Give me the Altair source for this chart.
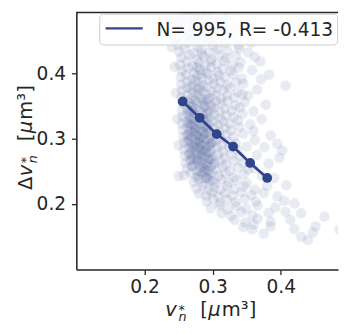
import altair as alt
import pandas as pd

# ---- data ----
line_x = [0.256, 0.281, 0.306, 0.330, 0.355, 0.380]
line_y = [0.357, 0.332, 0.307, 0.288, 0.263, 0.240]

legend_label = "N= 995, R= -0.413"
x_ticks = [0.2, 0.3, 0.4]
y_ticks = [0.2, 0.3, 0.4]

cloud_points = [
    (0.262, 0.497), (0.281, 0.492), (0.300, 0.499),
    (0.254, 0.486), (0.273, 0.482), (0.290, 0.488), (0.268, 0.489),
    (0.258, 0.475), (0.279, 0.478), (0.296, 0.472), (0.271, 0.471), (0.309, 0.479),
    (0.250, 0.466), (0.266, 0.462), (0.284, 0.468), (0.301, 0.463), (0.318, 0.467),
    (0.247, 0.453), (0.262, 0.458), (0.276, 0.451), (0.289, 0.456), (0.305, 0.452), (0.327, 0.459),
    (0.249, 0.444), (0.264, 0.447), (0.278, 0.441), (0.292, 0.448), (0.301, 0.442), (0.318, 0.446),
    (0.338, 0.443), (0.357, 0.447),
    (0.251, 0.433), (0.259, 0.438), (0.272, 0.431), (0.283, 0.436), (0.295, 0.432), (0.308, 0.437),
    (0.322, 0.434), (0.339, 0.438),
    (0.254, 0.424), (0.266, 0.428), (0.277, 0.421), (0.287, 0.426), (0.298, 0.422), (0.309, 0.428),
    (0.320, 0.423), (0.334, 0.427), (0.362, 0.425), (0.284, 0.429),
    (0.252, 0.413), (0.262, 0.418), (0.271, 0.411), (0.280, 0.416), (0.289, 0.412), (0.297, 0.418),
    (0.306, 0.414), (0.317, 0.419), (0.329, 0.412), (0.341, 0.417),
    (0.255, 0.404), (0.264, 0.408), (0.273, 0.401), (0.281, 0.406), (0.290, 0.403), (0.298, 0.409),
    (0.307, 0.402), (0.315, 0.407), (0.326, 0.404), (0.338, 0.409), (0.277, 0.409),
    (0.253, 0.394), (0.261, 0.398), (0.269, 0.391), (0.277, 0.396), (0.285, 0.393), (0.293, 0.399),
    (0.301, 0.392), (0.309, 0.397), (0.318, 0.394), (0.330, 0.398), (0.343, 0.392), (0.371, 0.391),
    (0.283, 0.399),
    (0.254, 0.383), (0.262, 0.388), (0.270, 0.381), (0.278, 0.386), (0.286, 0.382), (0.294, 0.389),
    (0.302, 0.384), (0.311, 0.387), (0.321, 0.382), (0.334, 0.386), (0.345, 0.384), (0.407, 0.381),
    (0.274, 0.389),
    (0.255, 0.374), (0.263, 0.378), (0.271, 0.371), (0.278, 0.376), (0.285, 0.373), (0.292, 0.379),
    (0.299, 0.372), (0.307, 0.377), (0.315, 0.374), (0.325, 0.378), (0.337, 0.371), (0.281, 0.379),
    (0.268, 0.376),
    (0.254, 0.363), (0.262, 0.367), (0.269, 0.361), (0.276, 0.366), (0.283, 0.362), (0.290, 0.368),
    (0.297, 0.363), (0.304, 0.367), (0.312, 0.361), (0.321, 0.366), (0.332, 0.363), (0.344, 0.368),
    (0.279, 0.369), (0.293, 0.361),
    (0.256, 0.354), (0.263, 0.358), (0.270, 0.351), (0.277, 0.356), (0.284, 0.353), (0.291, 0.359),
    (0.298, 0.352), (0.305, 0.357), (0.313, 0.354), (0.322, 0.358), (0.333, 0.351), (0.347, 0.356),
    (0.274, 0.359), (0.288, 0.351), (0.266, 0.355),
    (0.255, 0.343), (0.262, 0.347), (0.268, 0.341), (0.275, 0.346), (0.281, 0.342), (0.288, 0.348),
    (0.295, 0.343), (0.302, 0.347), (0.310, 0.341), (0.318, 0.346), (0.328, 0.343), (0.340, 0.348),
    (0.271, 0.349), (0.285, 0.341), (0.298, 0.349), (0.264, 0.344),
    (0.256, 0.334), (0.263, 0.338), (0.269, 0.331), (0.276, 0.336), (0.282, 0.332), (0.289, 0.338),
    (0.296, 0.333), (0.303, 0.337), (0.311, 0.331), (0.320, 0.336), (0.331, 0.333), (0.344, 0.338),
    (0.272, 0.339), (0.286, 0.331), (0.292, 0.339), (0.266, 0.333),
    (0.255, 0.323), (0.262, 0.327), (0.268, 0.321), (0.274, 0.326), (0.281, 0.322), (0.287, 0.328),
    (0.294, 0.323), (0.301, 0.327), (0.308, 0.321), (0.316, 0.326), (0.325, 0.323), (0.337, 0.328),
    (0.270, 0.329), (0.284, 0.321), (0.291, 0.329), (0.264, 0.324), (0.278, 0.325),
    (0.256, 0.314), (0.263, 0.318), (0.269, 0.311), (0.275, 0.316), (0.282, 0.312), (0.288, 0.318),
    (0.295, 0.313), (0.302, 0.317), (0.310, 0.311), (0.318, 0.316), (0.327, 0.313), (0.339, 0.318),
    (0.360, 0.312), (0.272, 0.319), (0.285, 0.311), (0.292, 0.319), (0.266, 0.313), (0.279, 0.315),
    (0.257, 0.303), (0.264, 0.307), (0.270, 0.301), (0.276, 0.306), (0.282, 0.302), (0.289, 0.308),
    (0.296, 0.303), (0.303, 0.307), (0.311, 0.301), (0.320, 0.306), (0.331, 0.303), (0.345, 0.308),
    (0.273, 0.309), (0.286, 0.301), (0.293, 0.309), (0.267, 0.304), (0.279, 0.305),
    (0.258, 0.294), (0.265, 0.298), (0.271, 0.291), (0.277, 0.296), (0.283, 0.292), (0.290, 0.298),
    (0.297, 0.293), (0.305, 0.297), (0.313, 0.291), (0.322, 0.296), (0.334, 0.293), (0.274, 0.299),
    (0.287, 0.291), (0.294, 0.299), (0.268, 0.293), (0.280, 0.295), (0.300, 0.295),
    (0.258, 0.283), (0.265, 0.287), (0.272, 0.281), (0.278, 0.286), (0.284, 0.282), (0.291, 0.288),
    (0.298, 0.283), (0.306, 0.287), (0.315, 0.281), (0.324, 0.286), (0.336, 0.283), (0.350, 0.288),
    (0.402, 0.282), (0.275, 0.289), (0.288, 0.281), (0.295, 0.289), (0.269, 0.284), (0.281, 0.285),
    (0.259, 0.274), (0.266, 0.278), (0.273, 0.271), (0.279, 0.276), (0.286, 0.272), (0.293, 0.278),
    (0.300, 0.273), (0.308, 0.277), (0.317, 0.271), (0.327, 0.276), (0.340, 0.273), (0.398, 0.271),
    (0.276, 0.279), (0.289, 0.271), (0.296, 0.279), (0.270, 0.273), (0.283, 0.275),
    (0.260, 0.263), (0.267, 0.267), (0.274, 0.261), (0.281, 0.266), (0.288, 0.262), (0.295, 0.268),
    (0.303, 0.263), (0.311, 0.267), (0.320, 0.261), (0.331, 0.266), (0.345, 0.263), (0.278, 0.269),
    (0.291, 0.261), (0.298, 0.269), (0.284, 0.264),
    (0.262, 0.254), (0.270, 0.258), (0.277, 0.251), (0.284, 0.256), (0.291, 0.252), (0.298, 0.258),
    (0.306, 0.253), (0.315, 0.257), (0.325, 0.251), (0.337, 0.256), (0.352, 0.253), (0.280, 0.259),
    (0.294, 0.251), (0.288, 0.255),
    (0.258, 0.244), (0.268, 0.248), (0.276, 0.241), (0.284, 0.246), (0.292, 0.242), (0.300, 0.248),
    (0.309, 0.243), (0.319, 0.247), (0.331, 0.241), (0.346, 0.246), (0.287, 0.249), (0.296, 0.245),
    (0.272, 0.234), (0.280, 0.238), (0.288, 0.231), (0.296, 0.236), (0.304, 0.232), (0.313, 0.238),
    (0.323, 0.233), (0.335, 0.237), (0.350, 0.232), (0.292, 0.239), (0.300, 0.235),
    (0.276, 0.224), (0.285, 0.228), (0.294, 0.221), (0.302, 0.226), (0.311, 0.222), (0.321, 0.228),
    (0.332, 0.223), (0.346, 0.227), (0.362, 0.222), (0.408, 0.229),
    (0.280, 0.216), (0.290, 0.213), (0.299, 0.218), (0.308, 0.212), (0.318, 0.217), (0.329, 0.213),
    (0.342, 0.218), (0.357, 0.214), (0.375, 0.217),
    (0.291, 0.204), (0.301, 0.208), (0.311, 0.202), (0.321, 0.207), (0.333, 0.203), (0.347, 0.208),
    (0.363, 0.204), (0.420, 0.201),
    (0.297, 0.194), (0.310, 0.198), (0.322, 0.192), (0.335, 0.197), (0.349, 0.193), (0.366, 0.198),
    (0.392, 0.195),
    (0.313, 0.186), (0.327, 0.182), (0.342, 0.188), (0.358, 0.183), (0.382, 0.187), (0.407, 0.188),
    (0.430, 0.186),
    (0.332, 0.176), (0.348, 0.172), (0.366, 0.178), (0.385, 0.173), (0.414, 0.176), (0.464, 0.181),
    (0.345, 0.165), (0.360, 0.169), (0.385, 0.166), (0.420, 0.162), (0.451, 0.166),
    (0.358, 0.161), (0.375, 0.155), (0.447, 0.157), (0.486, 0.161), (0.430, 0.150),
    (0.440, 0.145),
    # scattered faint points around the main body
    (0.352, 0.432), (0.370, 0.418), (0.358, 0.405), (0.383, 0.398), (0.365, 0.375),
    (0.352, 0.366), (0.378, 0.352), (0.360, 0.342), (0.372, 0.330), (0.355, 0.322),
    (0.385, 0.305), (0.362, 0.298), (0.376, 0.287), (0.395, 0.292), (0.365, 0.275),
    (0.382, 0.262), (0.360, 0.255), (0.372, 0.243), (0.390, 0.240), (0.380, 0.228),
    (0.395, 0.212), (0.405, 0.205), (0.246, 0.370), (0.248, 0.330), (0.250, 0.290),
    (0.250, 0.243), (0.244, 0.410), (0.240, 0.440), (0.320, 0.485), (0.335, 0.470),
    (0.245, 0.475),
    # extra weight in the darkest part of the cloud
    (0.263, 0.296), (0.272, 0.287), (0.281, 0.299), (0.290, 0.284), (0.266, 0.276),
    (0.276, 0.266), (0.285, 0.278), (0.294, 0.270), (0.270, 0.258), (0.282, 0.250),
    (0.293, 0.258), (0.262, 0.306), (0.274, 0.312), (0.287, 0.305), (0.298, 0.293),
    (0.268, 0.268), (0.279, 0.243), (0.290, 0.240), (0.302, 0.262), (0.283, 0.290),
    (0.268, 0.322), (0.280, 0.332), (0.292, 0.316), (0.271, 0.344), (0.286, 0.356),
]

# ---- styles ----
BLUE = "#30448C"
INK = "#262626"
FONT = "DejaVu Sans"
W, H = 268, 264
X_DOM = [0.1, 0.484]
Y_DOM = [0.1, 0.494]

cloud_df = pd.DataFrame(cloud_points, columns=["x", "y"])
line_df = pd.DataFrame({"x": line_x, "y": line_y})

xscale = alt.Scale(domain=X_DOM, nice=False, zero=False)
yscale = alt.Scale(domain=Y_DOM, nice=False, zero=False)
axis_style = dict(format=".1f", title=None, grid=False,
                  domainColor=INK, domainWidth=1.6, tickColor=INK, tickWidth=1.3,
                  tickSize=5, labelFont=FONT, labelFontSize=19, labelColor=INK)
xaxis = alt.Axis(values=x_ticks, labelPadding=3, **axis_style)
yaxis = alt.Axis(values=y_ticks, labelPadding=6, **axis_style)

cloud = alt.Chart(cloud_df).mark_circle(
    size=125, color=BLUE, opacity=0.1, stroke="white", strokeWidth=0.5, clip=True
).encode(
    x=alt.X("x:Q", scale=xscale, axis=xaxis),
    y=alt.Y("y:Q", scale=yscale, axis=yaxis),
)

line = alt.Chart(line_df).mark_line(color=BLUE, strokeWidth=2.7).encode(
    x=alt.X("x:Q", scale=xscale), y=alt.Y("y:Q", scale=yscale)
)
dots = alt.Chart(line_df).mark_circle(size=100, color=BLUE, opacity=1).encode(
    x=alt.X("x:Q", scale=xscale), y=alt.Y("y:Q", scale=yscale)
)


def piece(label, px, py, size, italic=False, angle=0):
    df = pd.DataFrame({"t": [label]})
    kw = dict(font=FONT, fontSize=size, color=INK, align="left",
              baseline="alphabetic")
    if italic:
        kw["fontStyle"] = "italic"
    if angle:
        kw["angle"] = angle
    return alt.Chart(df).mark_text(**kw).encode(
        text="t:N", x=alt.value(px), y=alt.value(py)
    )


# x-axis title  v*_n [μm³]
xt = [
    piece("v", 91, 312, 20, italic=True),
    piece("*", 104.5, 310, 13),
    piece("n", 104.5, 317, 13, italic=True),
    piece("[", 127, 312, 20),
    piece("μ", 135, 312, 20, italic=True),
    piece("m³]", 149, 312, 20),
]
# y-axis title  Δv*_n [μm³]  (rotated)
yt = [
    piece("Δ", -45, 182.5, 20, angle=270),
    piece("v", -45, 168.5, 20, italic=True, angle=270),
    piece("*", -47, 155, 13, angle=270),
    piece("n", -40, 155, 13, italic=True, angle=270),
    piece("[", -45, 132.5, 20, angle=270),
    piece("μ", -45, 124.5, 20, italic=True, angle=270),
    piece("m³]", -45, 110.5, 20, angle=270),
]

top_spine = alt.Chart(pd.DataFrame({"a": [0]})).mark_rule(
    color=INK, strokeWidth=1.6
).encode(x=alt.value(0), x2=alt.value(W), y=alt.value(0.8))

leg_box = alt.Chart(pd.DataFrame({"a": [0]})).mark_rect(
    fill="white", fillOpacity=0.8, stroke="#CCCCCC", strokeWidth=1, cornerRadius=4
).encode(x=alt.value(24), x2=alt.value(267.5), y=alt.value(2.5), y2=alt.value(34))
leg_line = alt.Chart(pd.DataFrame({"a": [0]})).mark_rule(
    color=BLUE, strokeWidth=2.5
).encode(x=alt.value(30), x2=alt.value(68), y=alt.value(17))
leg_text = alt.Chart(pd.DataFrame({"t": [legend_label]})).mark_text(
    font=FONT, fontSize=19, color=INK, align="left", baseline="alphabetic"
).encode(text="t:N", x=alt.value(82), y=alt.value(24.5))

chart = alt.layer(
    cloud, line, dots, top_spine, leg_box, leg_line, leg_text, *xt, *yt
).properties(
    width=W, height=H,
    autosize=alt.AutoSizeParams(type="none"),
    padding={"left": 70, "top": 0, "right": 2, "bottom": 58},
).configure_view(stroke=None)

chart.save("out.html", embed_options={"renderer": "svg", "actions": False})
